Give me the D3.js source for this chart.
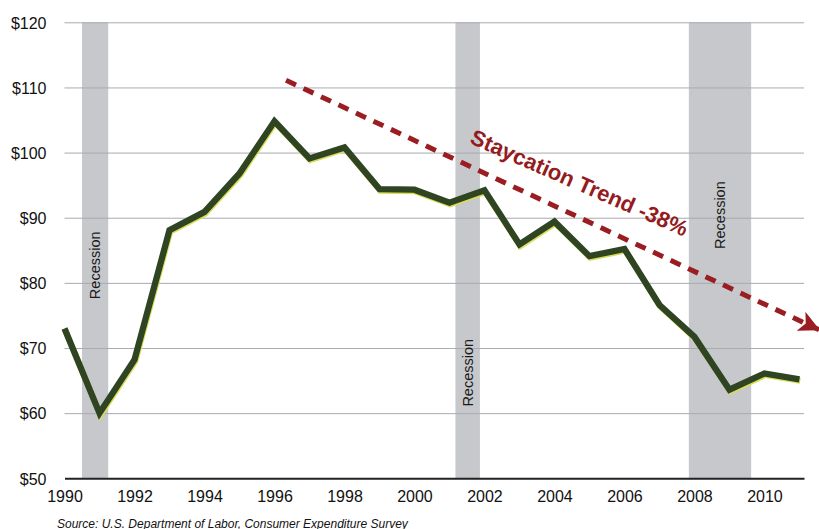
<!DOCTYPE html>
<html>
<head>
<meta charset="utf-8">
<script src="https://cdn.jsdelivr.net/npm/d3@7/dist/d3.min.js"></script>
<style>
  html, body { margin: 0; padding: 0; background: #fff; }
  svg { display: block; }
  text { font-family: "Liberation Sans", Arial, Helvetica, sans-serif; }
</style>
</head>
<body>
<svg id="chart" width="819" height="529"></svg>
<script>
// Average spending per household (dollars), by year
const years = [1990, 1991, 1992, 1993, 1994, 1995, 1996, 1997, 1998, 1999, 2000,
               2001, 2002, 2003, 2004, 2005, 2006, 2007, 2008, 2009, 2010, 2011];
const spending = [73.0, 60.0, 68.2, 88.1, 90.9, 96.8, 104.8, 99.1, 100.8, 94.4, 94.3,
                  92.3, 94.2, 85.9, 89.4, 84.1, 85.2, 76.6, 71.7, 63.6, 66.1, 65.2];

// Recession periods [start, end] in fractional years
const recessions = [[1990.5, 1991.25], [2001.17, 2001.87], [2007.84, 2009.62]];
// Vertical position (dollars) of each "Recession" label
const recessionLabelAt = [82.7, 66.2, 90.4];

// Trend arrow endpoints [year, dollars]
const trendStart = [1996.33, 111.1];
const trendEnd = [2011.56, 72.8];
const trendLabel = "Staycation Trend -38%";
const trendLabelAt = [2001.55, 101.5];

const yTicks = [50, 60, 70, 80, 90, 100, 110, 120];
const xTicks = [1990, 1992, 1994, 1996, 1998, 2000, 2002, 2004, 2006, 2008, 2010];
const sourceNote = "Source: U.S. Department of Labor, Consumer Expenditure Survey";

const svg = d3.select("#chart");

const x = d3.scaleLinear().domain([1990, 2011.13]).range([64.5, 804]);
const y = d3.scaleLinear().domain([50, 120]).range([478.3, 22.3]);

// Recession bands
svg.append("g").selectAll("rect")
  .data(recessions)
  .join("rect")
  .attr("x", d => x(d[0]))
  .attr("width", d => x(d[1]) - x(d[0]))
  .attr("y", y(120))
  .attr("height", y(50) - y(120))
  .attr("fill", "#c6c8cb");

// Horizontal gridlines
const yAxis = d3.axisLeft(y)
  .tickValues(yTicks)
  .tickSize(-(x.range()[1] - x.range()[0]))
  .tickPadding(18)
  .tickFormat(d => "$" + d);

const gy = svg.append("g")
  .attr("transform", `translate(${x.range()[0]},0)`)
  .call(yAxis);
gy.select(".domain").remove();
gy.selectAll(".tick line")
  .attr("stroke", "#a9aab2")
  .attr("stroke-width", 1);
gy.selectAll(".tick text")
  .attr("fill", "#111")
  .attr("font-size", 16)
  .attr("dy", "0.36em");
gy.selectAll(".tick").filter(d => d === 50).select("line").remove();

// Baseline axis
const xAxis = d3.axisBottom(x)
  .tickValues(xTicks)
  .tickSize(0)
  .tickPadding(12)
  .tickFormat(d3.format("d"));
const gx = svg.append("g")
  .attr("transform", `translate(0,${y(50)})`)
  .call(xAxis);
gx.select(".domain")
  .attr("stroke", "#222")
  .attr("stroke-width", 2);
gx.selectAll(".tick text")
  .attr("fill", "#111")
  .attr("font-size", 16);

// Recession labels
svg.append("g").selectAll("text")
  .data(recessions)
  .join("text")
  .attr("transform", (d, i) => `translate(${x((d[0] + d[1]) / 2) + 5},${y(recessionLabelAt[i])}) rotate(-90)`)
  .attr("text-anchor", "middle")
  .attr("font-size", 14.5)
  .attr("fill", "#1a1a1a")
  .text("Recession");

// Spending line
const line = d3.line()
  .x((d, i) => x(years[i]))
  .y(d => y(d));

svg.append("path")
  .datum(spending)
  .attr("d", line)
  .attr("transform", "translate(0.8,1.6)")
  .attr("fill", "none")
  .attr("stroke", "#d9dc55")
  .attr("stroke-width", 6)
  .attr("stroke-linejoin", "miter");

svg.append("path")
  .datum(spending)
  .attr("d", line)
  .attr("fill", "none")
  .attr("stroke", "#2e4422")
  .attr("stroke-width", 6.3)
  .attr("stroke-linejoin", "miter");

// Trend arrow
const defs = svg.append("defs");
defs.append("marker")
  .attr("id", "arrowhead")
  .attr("viewBox", "0 0 20 20")
  .attr("refX", 19)
  .attr("refY", 10)
  .attr("markerWidth", 21)
  .attr("markerHeight", 21)
  .attr("markerUnits", "userSpaceOnUse")
  .attr("orient", "auto")
  .append("path")
  .attr("d", "M0,0 L20,10 L0,20 L5,10 Z")
  .attr("fill", "#9a1d22");

const tx1 = x(trendStart[0]), ty1 = y(trendStart[1]);
const tx2 = x(trendEnd[0]), ty2 = y(trendEnd[1]);
svg.append("line")
  .attr("x1", tx1).attr("y1", ty1)
  .attr("x2", tx2).attr("y2", ty2)
  .attr("stroke", "#9a1d22")
  .attr("stroke-width", 5)
  .attr("stroke-dasharray", "11 8.3")
  .attr("marker-end", "url(#arrowhead)");

const angle = Math.atan2(ty2 - ty1, tx2 - tx1) * 180 / Math.PI - 1.5;
svg.append("text")
  .attr("transform", `translate(${x(trendLabelAt[0])},${y(trendLabelAt[1])}) rotate(${angle})`)
  .attr("font-size", 22)
  .attr("font-weight", "bold")
  .attr("fill", "#941b20")
  .text(trendLabel);

// Source note
svg.append("text")
  .attr("x", 57)
  .attr("y", 527.5)
  .attr("font-size", 12)
  .attr("font-style", "italic")
  .attr("fill", "#111")
  .text(sourceNote);
</script>
</body>
</html>
